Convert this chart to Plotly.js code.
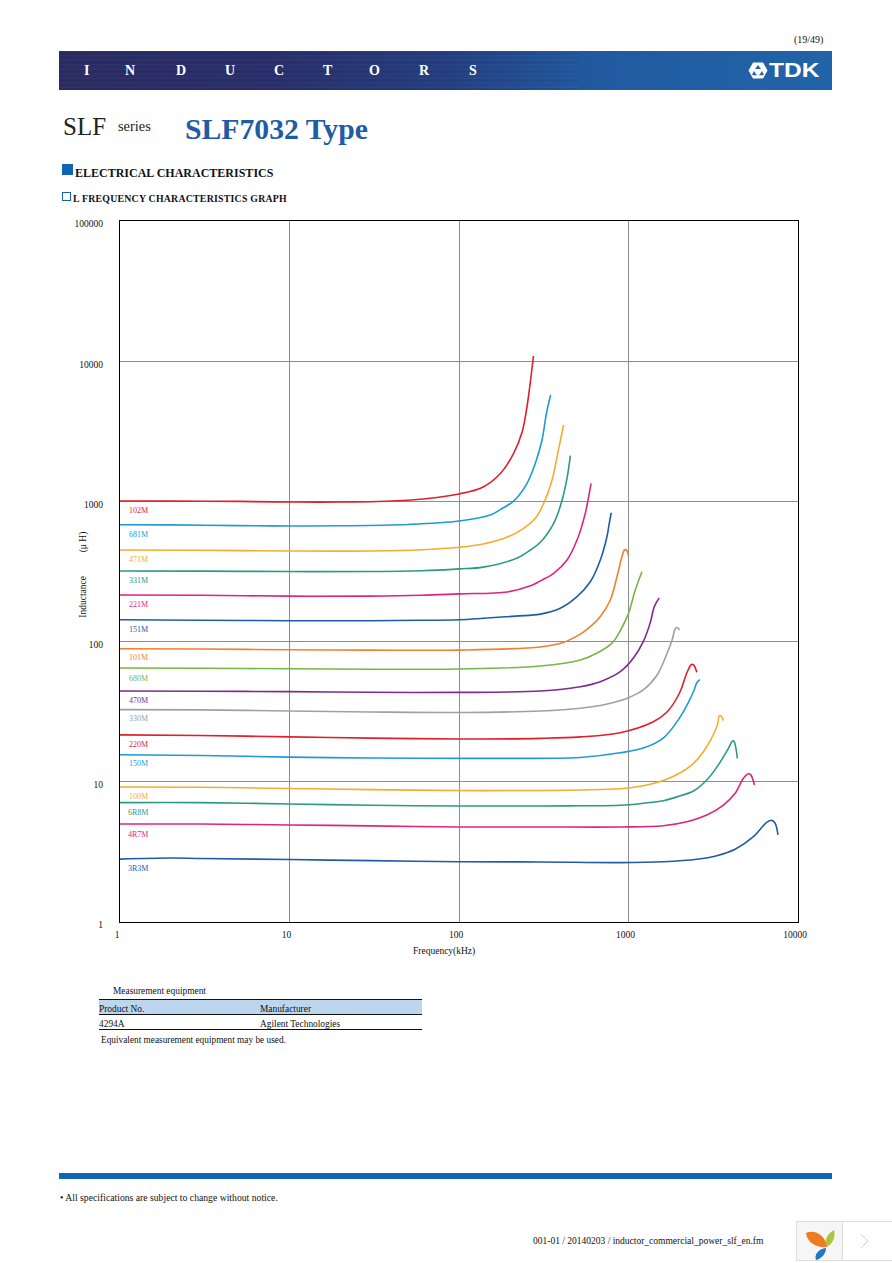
<!DOCTYPE html>
<html>
<head>
<meta charset="utf-8">
<script src="https://cdn.plot.ly/plotly-3.0.1.min.js"></script>
<style>
html, body { margin: 0; padding: 0; background: #fff; }
#page { position: relative; width: 892px; height: 1263px; overflow: hidden; font-family: "Liberation Serif", serif; color: #111; }
#page div, #page span { position: absolute; white-space: nowrap; }
#chart { left: 0; top: 0; width: 892px; height: 1263px; }
#band { left: 59px; top: 51px; width: 773px; height: 39px;
	background: linear-gradient(90deg, #2b2c62 0%, #2a2f6c 28%, #253f80 50%, #21599f 68%, #2164a8 100%); overflow: hidden; }
#streak { left: 0; top: 0; width: 520px; height: 39px; opacity: 0.22;
	background: repeating-linear-gradient(180deg, rgba(255,255,255,0.15) 0 1px, rgba(0,0,0,0.22) 1px 4px, rgba(120,140,220,0.25) 4px 5px, rgba(0,0,0,0) 5px 9px); }
.letter { top: 62px; color: #fff; font-weight: bold; font-size: 14px; line-height: 17px; }
.rule { background: #111; height: 1px; left: 99px; width: 323px; }
.small { font-size: 9.4px; line-height: 11px; }
</style>
</head>
<body>
<div id="page">
	<div id="band"><div id="streak"></div></div>
	<div class="letter" style="left:84px">I</div>
	<div class="letter" style="left:125px">N</div>
	<div class="letter" style="left:176px">D</div>
	<div class="letter" style="left:225px">U</div>
	<div class="letter" style="left:274px">C</div>
	<div class="letter" style="left:323px">T</div>
	<div class="letter" style="left:369px">O</div>
	<div class="letter" style="left:419px">R</div>
	<div class="letter" style="left:469px">S</div>
	<svg style="position:absolute;left:748px;top:62px" width="20" height="17" viewBox="0 0 20 17">
		<polygon points="5,0.5 15,0.5 19.5,8.5 15,16.5 5,16.5 0.5,8.5" fill="#fff"/>
		<polygon points="10,3 13,7 7,7" fill="#2164a8"/>
		<polygon points="6,9 9,13.5 4,13" fill="#2164a8"/>
		<polygon points="14,9 16,13 11,13.5" fill="#2164a8"/>
	</svg>
	<div style="left:769px;top:57px;color:#fff;font:bold 21px/26px 'Liberation Sans',sans-serif;transform:scaleX(1.17);transform-origin:0 0">TDK</div>
	<div class="small" style="left:794px;top:34px;font-size:10px">(19/49)</div>

	<div style="left:63px;top:112px;font-size:25px;line-height:30px;color:#222">SLF</div>
	<div style="left:118px;top:118px;font-size:14.4px;line-height:16px;color:#222">series</div>
	<div style="left:185px;top:112px;font-size:29.7px;line-height:34px;font-weight:bold;color:#1f5ca8">SLF7032 Type</div>

	<div style="left:62px;top:164px;width:11px;height:11px;background:#0f66b5"></div>
	<div style="left:75px;top:166px;font-size:12px;line-height:15px;font-weight:bold">ELECTRICAL CHARACTERISTICS</div>
	<div style="left:62px;top:192px;width:7px;height:7px;border:1px solid #0f66b5"></div>
	<div style="left:73px;top:192px;font-size:9.8px;line-height:13px;font-weight:bold;letter-spacing:0.25px">L FREQUENCY CHARACTERISTICS GRAPH</div>

	<div id="chart"></div>

	<div class="small" style="left:113px;top:986px">Measurement equipment</div>
	<div style="left:99px;top:999px;width:323px;height:15px;background:#bcd6ee"></div>
	<div class="rule" style="top:999px"></div>
	<div class="rule" style="top:1014px"></div>
	<div class="rule" style="top:1029px"></div>
	<div class="small" style="left:99px;top:1004px">Product No.</div>
	<div class="small" style="left:260px;top:1004px">Manufacturer</div>
	<div class="small" style="left:99px;top:1019px">4294A</div>
	<div class="small" style="left:260px;top:1019px">Agilent Technologies</div>
	<div class="small" style="left:101px;top:1035px;font-size:9.3px">Equivalent measurement equipment may be used.</div>

	<div style="left:59px;top:1173px;width:773px;height:6px;background:#0f66b5"></div>
	<div class="small" style="left:60px;top:1192px;font-size:9.7px">• All specifications are subject to change without notice.</div>
	<div class="small" style="left:533px;top:1236px;font-size:9.5px">001-01 / 20140203 / inductor_commercial_power_slf_en.fm</div>

	<div style="left:796px;top:1221px;width:45px;height:38px;background:#f6f6f6;border:1px solid #ddd"></div>
	<div style="left:842px;top:1221px;width:50px;height:38px;background:#fff;border:1px solid #ddd"></div>
	<svg style="position:absolute;left:805px;top:1229px" width="30" height="32" viewBox="0 0 30 32">
		<path d="M1 4 C10 0 21 7 22 18 C12 19 2 14 1 4Z" fill="#ee7a22"/>
		<path d="M29 1 C31 9 27 15 22 18 C19 11 22 5 29 1Z" fill="#a9c63d"/>
		<path d="M21 19 C21 25 16 30 11 31 C9 26 13 20 21 19Z" fill="#1d79c4"/>
	</svg>
	<svg style="position:absolute;left:860px;top:1233px" width="10" height="16" viewBox="0 0 10 16">
		<polyline points="1,1 8,8 1,15" fill="none" stroke="#cfcfcf" stroke-width="1"/>
	</svg>
</div>

<script>
var labels = ["102M","681M","471M","331M","221M","151M","101M","680M","470M","330M","220M","150M","100M","6R8M","4R7M","3R3M"];
var colors = ["#e01f2d","#1f9ad6","#f5ad2f","#2a9a85","#de2481","#1f5ca8","#f08030","#76b843","#7d2b8c","#a0a0a0","#e01f2d","#1f9ad6","#f5ad2f","#2a9a85","#de2481","#1f5ca8"];

// frequency in kHz, inductance in uH
var f102 = [1,2,5,10,20,50,100,139,176,210,236,250,260,275];
var L102 = [1007,1005,1000,990,990,1020,1130,1268,1586,2204,3141,4487,6233,10890];
var f681 = [1,2,5,10,20,50,100,153,176,210,252,282,309,328,347];
var L681 = [682,680,672,668,670,685,725,800,878,1006,1346,1870,2741,4250,5741];
var f471 = [1,3,10,30,60,100,139,193,236,282,316,354,379,414];
var L471 = [450,448,443,443,452,471,497,557,632,757,969,1422,2084,3508];
var f331 = [1,3,10,30,60,100,139,221,264,302,362,402,434,454];
var L331 = [319,318,316,316,320,330,340,395,450,511,698,982,1468,2118];
var f221 = [1,3,10,30,60,100,193,264,302,362,434,497,556,582,601];
var L221 = [215,214,211,211,214,219,226,250,271,307,382,530,822,1081,1346];
var f151 = [1,3,10,30,60,100,215,302,396,497,595,682,746,770,791];
var L151 = [143,142,141,141,142,143,152,157,173,209,267,382,560,698,830];
var f101 = [1,3,10,30,100,302,407,520,569,682,781,855,915,948,970,1000];
var L101 = [89,88.5,87.5,87,87,91.5,98,113,122,151,198,290,403,452,452,410];
var f680 = [1,3,10,30,100,302,520,654,802,902,1000,1096,1200];
var L680 = [64.8,64.5,64,63.5,63.8,67,74,83,98,122,159,233,315];
var f470 = [1,3,10,30,100,302,520,682,894,1067,1222,1343,1419,1517];
var L470 = [44.4,44.2,44,43.5,43.4,44.4,47.7,51.8,61,76,100,136,177,205];
var f330 = [1,3,10,30,100,302,520,750,1000,1222,1476,1692,1811,1885,1937,2000];
var L330 = [32.7,32.6,32,31.5,31.2,32,33.5,35.9,39.8,45.2,57.8,83,103,123,126,121];
var f220 = [1,3,10,30,100,302,520,894,1400,1692,2000,2208,2344,2417,2530];
var L220 = [21.6,21.4,20.9,20.5,20.2,20.4,20.9,22.4,26.8,31.6,43,59.7,68.4,68.4,60.4];
var f150 = [1,3,10,30,100,302,520,894,1222,1603,2000,2249,2439,2530,2636];
var L150 = [15.6,15.4,15,14.8,14.7,14.7,14.9,16.1,17.4,20.5,28.5,36.5,45.2,50.9,53.5];
var f100 = [1,3,10,30,100,302,520,894,1222,1603,2000,2366,2767,3318,3438,3505,3631];
var L100 = [9.18,9.15,8.96,8.8,8.67,8.67,8.75,8.93,9.38,10.2,11.5,13.2,16.4,24.7,29.6,29.6,27.3];
var f6R8 = [1,3,10,30,100,302,520,894,1222,1603,2000,2417,2897,3390,3884,4122,4197,4389];
var L6R8 = [7.1,7.1,6.95,6.8,6.72,6.72,6.75,6.8,7.03,7.33,7.92,8.6,10.3,13.2,17.3,19.6,19.4,14.7];
var f4R7 = [1,3,10,30,100,302,894,1603,2208,2897,3631,4256,4766,5096,5266,5532];
var L4R7 = [5,5,4.92,4.85,4.76,4.76,4.76,4.86,5.19,5.8,6.83,8.28,10.6,11.4,11.2,9.49];
var f3R3 = [1,2,3,10,30,100,302,894,1603,2530,3318,4256,5456,6540,7000,7328,7621];
var L3R3 = [2.81,2.86,2.84,2.79,2.74,2.69,2.68,2.65,2.69,2.8,2.97,3.3,4.06,5.14,5.31,5.06,4.18];

// inductance height where each part number label sits
var labelL = [855,585,388,275,185,123,76.4,55,38.3,28.5,18.6,13.4,7.92,6.09,4.24,2.39];
var labelF = 1.28;

var freqs = [f102,f681,f471,f331,f221,f151,f101,f680,f470,f330,f220,f150,f100,f6R8,f4R7,f3R3];
var inds = [L102,L681,L471,L331,L221,L151,L101,L680,L470,L330,L220,L150,L100,L6R8,L4R7,L3R3];

var xTicks = [1,10,100,1000,10000];
var yTicks = [1,10,100,1000,10000,100000];

var traces = [];
var notes = [];
for (var i = 0; i < labels.length; i++) {
	traces.push({
		type: 'scatter', mode: 'lines', x: freqs[i], y: inds[i], name: labels[i],
		line: { color: colors[i], width: 1.6, shape: 'spline', smoothing: 1 },
		hoverinfo: 'x+y+name'
	});
	notes.push({
		x: Math.log10(labelF), y: Math.log10(labelL[i]), text: labels[i], showarrow: false,
		font: { family: 'Liberation Serif', size: 8, color: colors[i] }
	});
}

// the axis titles sit off centre in the original, so they are placed by hand
notes.push({
	xref: 'paper', yref: 'paper', x: 0.478, y: -0.0525, text: 'Frequency(kHz)', showarrow: false,
	font: { family: 'Liberation Serif', size: 9.5, color: '#111' }
});
notes.push({
	xref: 'paper', yref: 'paper', x: -0.065, y: 0.496, textangle: -90, showarrow: false,
	text: 'Inductance &nbsp;&nbsp;&nbsp;&nbsp;&nbsp;&nbsp;&nbsp;&nbsp;&nbsp;(μ H)',
	font: { family: 'Liberation Serif', size: 9.5, color: '#111' }
});

var layout = {
	width: 892, height: 1263,
	margin: { l: 120, r: 94, t: 221, b: 341, pad: 0 },
	paper_bgcolor: 'rgba(0,0,0,0)',
	plot_bgcolor: 'rgba(0,0,0,0)',
	showlegend: false,
	font: { family: 'Liberation Serif', size: 9.5, color: '#111' },
	xaxis: {
		type: 'log', range: [0, 4], tickvals: xTicks, ticktext: xTicks.map(String),
		showgrid: true, gridcolor: '#8e8e8e', gridwidth: 1,
		showline: true, linecolor: '#000', linewidth: 1, mirror: true,
		ticks: '', ticklabelstandoff: 4, ticklabelshift: -3, zeroline: false
	},
	yaxis: {
		type: 'log', range: [0, 5], tickvals: yTicks, ticktext: yTicks.map(String),
		showgrid: true, gridcolor: '#8e8e8e', gridwidth: 1,
		showline: true, linecolor: '#000', linewidth: 1, mirror: true,
		ticks: '', ticklabelstandoff: 14, ticklabelshift: 3, zeroline: false
	},
	annotations: notes
};

Plotly.newPlot('chart', traces, layout, { displayModeBar: false, staticPlot: true });
</script>
</body>
</html>
